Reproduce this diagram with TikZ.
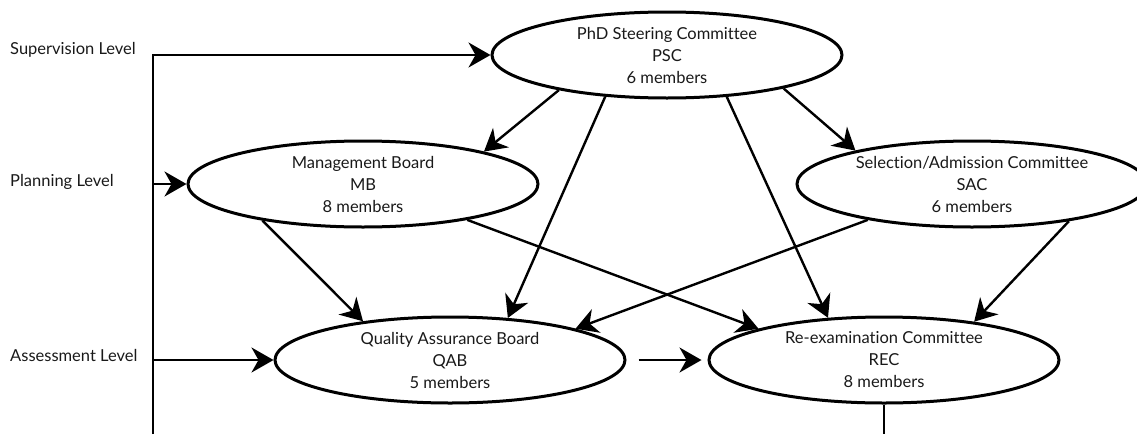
\documentclass[tikz,border=0pt]{standalone}
\usepackage{fontspec}
\setmainfont{Lato}[Ligatures={NoCommon}]
\usetikzlibrary{shapes.geometric,arrows.meta}

\begin{document}
\begin{tikzpicture}[x=1pt,y=-1pt,line width=2.4pt,
  body/.style={ellipse,draw,line width=3pt,minimum width=350pt,minimum height=86pt,
    inner sep=0pt,align=center,font=\fontsize{16.5}{22}\selectfont,text=black!90},
  level/.style={anchor=west,inner sep=0pt,font=\fontsize{16.5}{19}\selectfont,text=black!90},
  >={Stealth[length=22pt,width=25pt,inset=7pt]}]
\useasboundingbox (0,0) rectangle (1137,434);

\node [body] (psc) at (667,55) {PhD Steering Committee\\PSC\\6 members};
\node [body] (mb) at (363,184) {Management Board\\MB\\8 members};
\node [body] (sac) at (972,184) {Selection/Admission Committee\\SAC\\6 members};
\node [body] (qab) at (450,360) {Quality Assurance Board\\QAB\\5 members};
\node [body] (rec) at (884,360) {Re-examination Committee\\REC\\8 members};

\node [level] (sup) at (9,50) {Supervision Level};
\node [level] (plan) at (9,182) {Planning Level};
\node [level] (ass) at (9,355) {Assessment Level};

\coordinate (top) at (153,55);
\coordinate (bot) at (153,434);

\draw[->]  (bot)  --  (top)  --  (psc.west);
\draw[->]  (top |- mb.west)  --  (mb.west);
\draw[->]  (top |- qab.west)  --  (qab.west);

\draw[->]  (psc.198)  --  (mb.15);
\draw[->]  (psc.344)  --  (sac.164);
\draw[->]  (psc.214)  --  (qab.36);
\draw[->]  (psc.325)  --  (rec.143);

\draw[->]  (mb.200)  --  (qab.156);
\draw[->]  (mb.341)  --  (rec.166);
\draw[->]  (sac.199)  --  (qab.14);
\draw[->]  (sac.339)  --  (rec.23);

\draw[->,shorten <=12pt,shorten >=6pt]  (qab.east)  --  (rec.west);
\draw  (rec.south)  --  (rec.south |- bot);

\end{tikzpicture}
\end{document}
